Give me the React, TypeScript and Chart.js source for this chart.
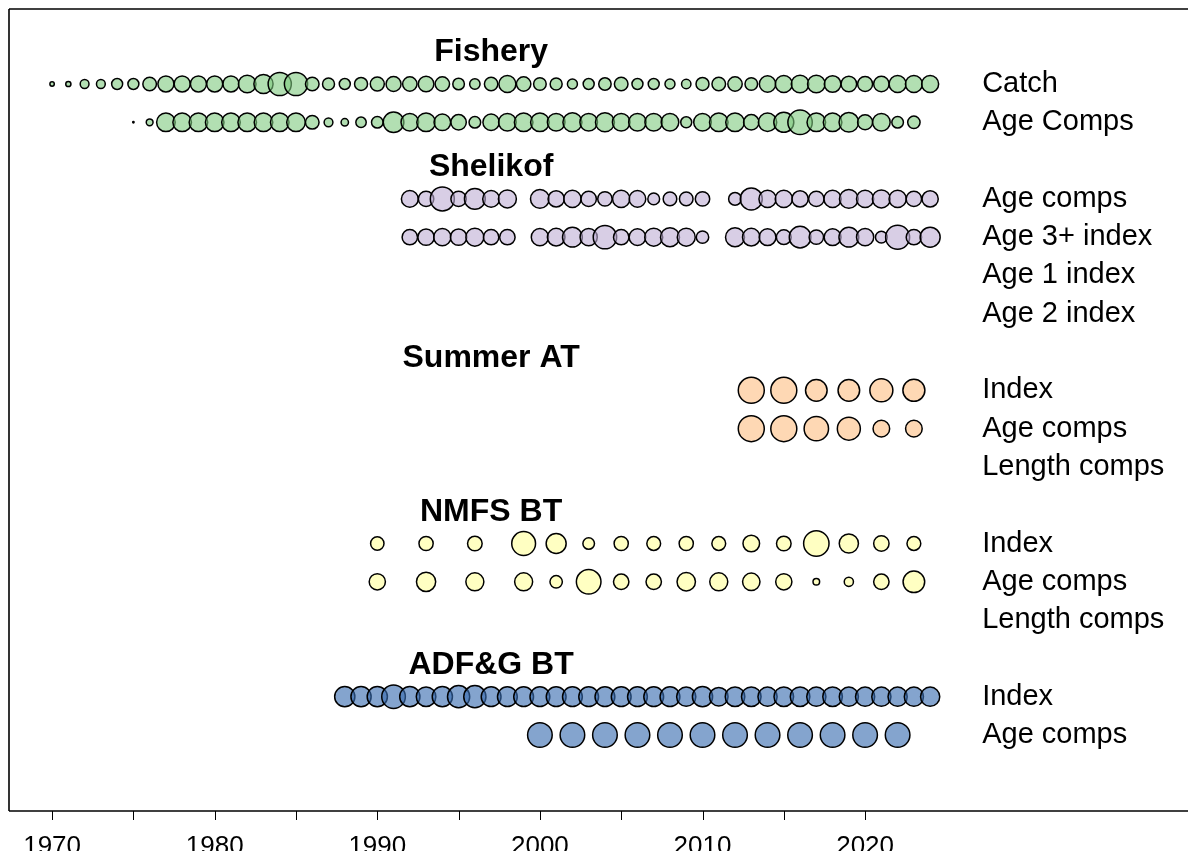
import React, { useEffect, useRef } from "react";
import { Chart, registerables } from "chart.js";

Chart.register(...registerables);

// ---------- data ----------
const yearsFrom = (a: number, b: number, step = 1): number[] => {
  const out: number[] = [];
  for (let v = a; v <= b; v += step) out.push(v);
  return out;
};

// Fishery
const fisheryCatchYears = yearsFrom(1970, 2024);
const fisheryCatchSize = [
  2.2, 2.6, 4.4, 4.4, 5.5, 5.5, 6.8, 8.0, 8.0, 8.0, 8.0, 8.0, 8.8, 9.6, 11.6, 11.6, 6.8, 6.0,
  5.5, 6.5, 7.0, 7.5, 7.2, 7.8, 7.2, 5.8, 5.2, 6.7, 8.5, 7.2, 6.3, 6.0, 5.0, 5.5, 6.2, 6.8,
  5.5, 5.5, 5.0, 4.7, 6.5, 6.8, 7.2, 6.3, 8.2, 8.5, 8.8, 8.8, 8.3, 7.8, 7.5, 7.7, 8.5, 8.5, 8.5,
];
const fisheryAgeYears = yearsFrom(1975, 2023);
const fisheryAgeSize = [
  0.7, 3.4, 9.3, 9.3, 9.3, 9.3, 9.3, 9.3, 9.3, 9.3, 9.3, 6.8, 4.4, 3.7, 5.2, 5.8, 10.3, 8.8,
  9.3, 8.3, 7.7, 5.8, 8.2, 8.8, 9.3, 9.3, 8.8, 9.5, 8.8, 9.5, 8.8, 8.8, 8.8, 8.8, 5.5, 8.8,
  9.3, 9.3, 7.7, 9.2, 10.0, 12.2, 9.3, 9.3, 9.8, 7.5, 8.8, 5.8, 6.2,
];

// Shelikof
const shelikofYears = [
  ...yearsFrom(1992, 1998), ...yearsFrom(2000, 2010), ...yearsFrom(2012, 2024),
];
const shelikofAgeSize = [
  8.4, 7.7, 12.0, 7.7, 10.4, 8.4, 9.0,
  9.4, 8.1, 8.6, 7.7, 7.2, 8.6, 8.3, 5.9, 6.8, 6.8, 7.2,
  6.4, 11.0, 8.6, 8.6, 8.1, 7.7, 8.6, 9.4, 8.6, 9.0, 8.6, 7.7, 8.1,
];
const shelikofIdxSize = [
  7.7, 8.2, 8.6, 8.2, 9.0, 7.7, 7.7,
  8.6, 8.8, 9.9, 8.6, 11.7, 7.7, 8.3, 9.0, 9.5, 9.0, 6.2,
  9.5, 8.8, 8.4, 7.4, 10.8, 7.2, 8.4, 9.9, 8.6, 5.9, 12.0, 7.7, 10.0,
];

// Summer acoustic-trawl
const summerYears = [2013, 2015, 2017, 2019, 2021, 2023];
const summerIdxSize = [13.0, 13.0, 10.8, 10.8, 11.5, 11.0];
const summerAgeSize = [13.0, 13.0, 12.2, 11.5, 8.3, 8.3];

// NMFS bottom trawl
const nmfsYears = [1990, 1993, 1996, 1999, 2001, 2003, 2005, 2007, 2009, 2011, 2013, 2015, 2017, 2019, 2021, 2023];
const nmfsIdxSize = [6.7, 7.1, 7.3, 11.9, 10.0, 5.8, 7.1, 6.9, 7.1, 6.9, 8.3, 7.3, 12.7, 9.6, 7.7, 6.9];
const nmfsAgeSize = [8.1, 9.6, 9.0, 9.0, 6.2, 12.3, 7.7, 7.7, 9.2, 9.0, 8.7, 8.1, 3.3, 4.6, 7.7, 10.8];

// ADF&G bottom trawl
const adfgIdxYears = yearsFrom(1988, 2024);
const adfgIdxSize = [
  10.1, 10.1, 10.1, 11.8, 10.1, 9.8, 10.1, 11.1, 11.1, 9.9, 9.9, 9.9, 9.9, 9.9, 9.9, 9.9, 9.9,
  9.9, 9.9, 9.9, 9.9, 9.6, 10.1, 9.3, 9.8, 9.8, 9.6, 9.8, 9.8, 9.6, 9.8, 9.6, 9.6, 9.6, 9.6, 9.6, 9.6,
];
const adfgAgeYears = [2000, 2002, 2004, 2006, 2008, 2010, 2012, 2014, 2016, 2018, 2020, 2022];
const adfgAgeSize = [12.3, 12.3, 12.3, 12.3, 12.3, 12.3, 12.3, 12.3, 12.3, 12.3, 12.3, 12.3];

// Labels
const SECTION_TITLES = ["Fishery", "Shelikof", "Summer AT", "NMFS BT", "ADF&G BT"];
const SECTION_SLOTS = [-1, 2, 7, 11, 15];
const ROW_LABELS = [
  "Catch", "Age Comps",
  "Age comps", "Age 3+ index", "Age 1 index", "Age 2 index",
  "Index", "Age comps", "Length comps",
  "Index", "Age comps", "Length comps",
  "Index", "Age comps",
];
const ROW_SLOTS = [0, 1, 3, 4, 5, 6, 8, 9, 10, 12, 13, 14, 16, 17];
const TICK_YEARS = [1970, 1975, 1980, 1985, 1990, 1995, 2000, 2005, 2010, 2015, 2020];

// ---------- style ----------
const FONT = '"Liberation Sans", Arial, Helvetica, sans-serif';
const GREEN = "rgba(127,201,127,0.6)";
const PURPLE = "rgba(190,174,212,0.6)";
const PEACH = "rgba(253,192,134,0.62)";
const YELLOW = "rgba(255,255,153,0.6)";
const BLUE = "rgba(56,108,176,0.62)";
const BORDER_W = 1.5;

const X_MIN = 1967.35;
const X_MAX = 2040.35;
const Y_MIN = -1.9585;
const Y_MAX = 18.985;
const TITLE_X = 1997;
const TITLE_DY = 0.17;
const LABEL_X = 2027.2;
const TICK_LEN = 9;

const W = 1180;
const H = 843;

function makeSet(slot: number, years: number[], sizes: number[], color: string) {
  return {
    type: "bubble" as const,
    data: years.map((yr, i) => ({ x: yr, y: slot, r: Math.max(sizes[i], 0.5) })),
    backgroundColor: color,
    borderColor: "#000",
    borderWidth: BORDER_W,
    hoverRadius: 0,
  };
}

const annotatePlugin = {
  id: "annotate",
  afterDraw(chart: any) {
    const { ctx, chartArea, scales } = chart;
    const x = scales.x;
    const y = scales.y;
    ctx.save();
    ctx.fillStyle = "#000";
    ctx.textBaseline = "middle";
    ctx.textAlign = "center";
    ctx.font = `bold 32px ${FONT}`;
    SECTION_TITLES.forEach((t, i) => {
      ctx.fillText(t, x.getPixelForValue(TITLE_X), y.getPixelForValue(SECTION_SLOTS[i] + TITLE_DY));
    });
    ctx.textAlign = "left";
    ctx.font = `29px ${FONT}`;
    ROW_LABELS.forEach((t, i) => {
      ctx.fillText(t, x.getPixelForValue(LABEL_X), y.getPixelForValue(ROW_SLOTS[i]));
    });
    // tick marks
    ctx.strokeStyle = "#000";
    ctx.lineWidth = 1;
    TICK_YEARS.forEach((v) => {
      const px = Math.round(x.getPixelForValue(v)) + 0.5;
      ctx.beginPath();
      ctx.moveTo(px, chartArea.bottom);
      ctx.lineTo(px, chartArea.bottom + TICK_LEN);
      ctx.stroke();
    });
    // frame (left, top, bottom) — open on the right like the reference
    ctx.lineWidth = 1.6;
    const segs = [
      [chartArea.left, chartArea.top, chartArea.right + 20, chartArea.top],
      [chartArea.left, chartArea.top, chartArea.left, chartArea.bottom],
      [chartArea.left, chartArea.bottom, chartArea.right + 20, chartArea.bottom],
    ];
    segs.forEach(([x1, y1, x2, y2]) => {
      ctx.beginPath();
      ctx.moveTo(x1, y1);
      ctx.lineTo(x2, y2);
      ctx.stroke();
    });
    ctx.restore();
  },
};

export default function App() {
  const ref = useRef<HTMLCanvasElement | null>(null);
  useEffect(() => {
    if (!ref.current) return;
    const chart = new Chart(ref.current, {
      type: "bubble",
      data: {
        datasets: [
          makeSet(0, fisheryCatchYears, fisheryCatchSize, GREEN),
          makeSet(1, fisheryAgeYears, fisheryAgeSize, GREEN),
          makeSet(3, shelikofYears, shelikofAgeSize, PURPLE),
          makeSet(4, shelikofYears, shelikofIdxSize, PURPLE),
          makeSet(8, summerYears, summerIdxSize, PEACH),
          makeSet(9, summerYears, summerAgeSize, PEACH),
          makeSet(12, nmfsYears, nmfsIdxSize, YELLOW),
          makeSet(13, nmfsYears, nmfsAgeSize, YELLOW),
          makeSet(16, adfgIdxYears, adfgIdxSize, BLUE),
          makeSet(17, adfgAgeYears, adfgAgeSize, BLUE),
        ] as any,
      },
      options: {
        animation: false,
        responsive: false,
        events: [],
        layout: { autoPadding: false, padding: { left: 1, top: 1, right: 0, bottom: 0 } },
        plugins: { legend: { display: false }, tooltip: { enabled: false } },
        scales: {
          x: {
            type: "linear",
            min: X_MIN,
            max: X_MIN + (X_MAX - X_MIN) * (1179 / 1187),
            border: { display: false },
            grid: { display: false },
            afterBuildTicks: (axis: any) => {
              axis.ticks = TICK_YEARS.map((v) => ({ value: v }));
            },
            afterFit: (axis: any) => {
              axis.height = 40;
            },
            ticks: {
              autoSkip: false,
              maxRotation: 0,
              padding: 12,
              color: "#000",
              font: { family: FONT, size: 26 },
              callback: (v: any) => (Number(v) % 10 === 0 ? String(v) : ""),
            },
          },
          y: {
            type: "linear",
            display: false,
            reverse: true,
            min: Y_MIN,
            max: Y_MAX,
            grid: { display: false },
            border: { display: false },
          },
        },
      },
      plugins: [annotatePlugin],
    });
    return () => chart.destroy();
  }, []);
  return (
    <div style={{ width: W, height: H }}>
      <canvas ref={ref} width={W} height={H} style={{ display: "block" }} />
    </div>
  );
}
